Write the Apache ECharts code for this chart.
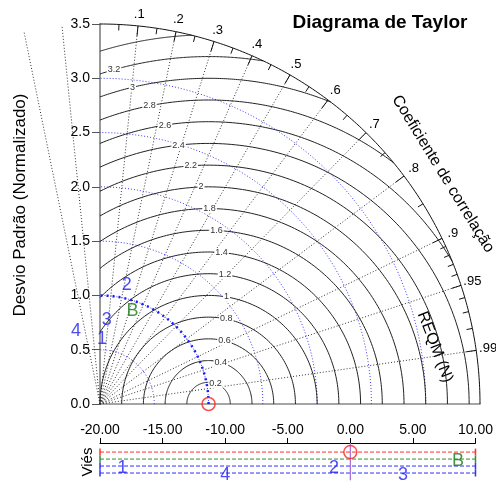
<!DOCTYPE html>
<html>
<head>
<meta charset="utf-8">
<script src="https://cdn.jsdelivr.net/npm/echarts@6/dist/echarts.min.js"></script>
<style>
  html, body { margin: 0; padding: 0; background: #fff; }
  #chart { width: 496px; height: 482px; }
</style>
</head>
<body>
<div id="chart"></div>
<script>
// modelos (desvio padrão normalizado, correlação, viés)
const modelNames = ['1', '2', '3', '4', 'B'];
const modelStd = [0.60, 1.12, 0.78, 0.71, 0.91];
const modelCorr = [0.03, 0.22, 0.08, -0.31, 0.33];
const modelBias = [-18.2, -1.3, 4.2, -10.0, 8.6];
const modelBiasRow = [3, 3, 4, 4, 2];
const modelColors = ['#2020f0', '#2020f0', '#2020f0', '#2020f0', '#1a7a1a'];

const refStd = 1.0;
const refBias = 0;

// grade do diagrama
const maxStd = 3.5;
const stdArcs = [0.5, 1.0, 1.5, 2.0, 2.5, 3.0];
const rmsdArcs = [0.2, 0.4, 0.6, 0.8, 1.0, 1.2, 1.4, 1.6, 1.8, 2.0, 2.2, 2.4, 2.6, 2.8, 3.0, 3.2, 3.4];
const corrLines = [-0.2, -0.1, 0.1, 0.2, 0.3, 0.4, 0.5, 0.6, 0.7, 0.8, 0.9, 0.95, 0.99];
const corrLabels = ['.1', '.2', '.3', '.4', '.5', '.6', '.7', '.8', '.9', '.95', '.99'];
const corrLabelValues = [0.1, 0.2, 0.3, 0.4, 0.5, 0.6, 0.7, 0.8, 0.9, 0.95, 0.99];
const corrMinor = [0.05, 0.15, 0.25, 0.35, 0.45, 0.55, 0.65, 0.75, 0.85, 0.91, 0.92, 0.93, 0.94, 0.96, 0.97, 0.98];

// faixa do viés
const biasTicks = [-20, 10, 5];
const biasRowColors = ['#ff3030', '#2e922e', '#3030ff', '#3030ff'];

const chart = echarts.init(document.getElementById('chart'), null, { renderer: 'canvas' });

function polar(s, c) {
  return [s * c, s * Math.sqrt(1 - c * c)];
}

function arcPoints(api, cx, r, a0, a1, n) {
  const pts = [];
  for (let i = 0; i <= n; i++) {
    const a = a0 + (a1 - a0) * i / n;
    pts.push(api.coord([cx + r * Math.cos(a), r * Math.sin(a)]));
  }
  return pts;
}

const modelData = modelNames.map((n, i) => ({
  value: polar(modelStd[i], modelCorr[i]),
  name: n,
  label: { color: modelColors[i] }
}));

const biasData = modelNames.map((n, i) => ({
  value: [modelBias[i], modelBiasRow[i]],
  name: n,
  label: { color: modelColors[i] }
}));

const option = {
  animation: false,
  backgroundColor: '#fff',
  textStyle: { fontFamily: 'Liberation Sans, Arial, sans-serif' },
  grid: [
    { left: 100, top: 24, width: 380, height: 380 },
    { left: 100, top: 443, width: 380, height: 37 }
  ],
  xAxis: [
    {
      gridIndex: 0, type: 'value', min: 0, max: maxStd,
      axisLine: { show: true, lineStyle: { color: '#888', width: 1.5 } },
      axisTick: { show: false }, axisLabel: { show: false }, splitLine: { show: false }
    },
    {
      gridIndex: 1, type: 'value', position: 'top',
      min: biasTicks[0], max: biasTicks[1], interval: biasTicks[2],
      axisLine: { show: true, onZero: false, lineStyle: { color: '#000', width: 1 } },
      axisTick: { show: true, length: 5, lineStyle: { color: '#000' } },
      axisLabel: { show: true, margin: 6, fontSize: 14, color: '#000', formatter: v => v.toFixed(2) },
      splitLine: { show: false }
    }
  ],
  yAxis: [
    {
      gridIndex: 0, type: 'value', min: 0, max: maxStd, interval: 0.5,
      axisLine: { show: true, lineStyle: { color: '#999', width: 2 } },
      axisTick: { show: true, length: 8, lineStyle: { color: '#555' } },
      axisLabel: { margin: 10, fontSize: 14, color: '#000', formatter: v => v.toFixed(1) },
      splitLine: { show: false }
    },
    {
      gridIndex: 1, type: 'value', min: -0.3, max: 5, inverse: true,
      axisLine: { show: true, lineStyle: { color: '#999' } },
      axisTick: { show: false }, axisLabel: { show: false }, splitLine: { show: false }
    }
  ],
  graphic: [
    {
      type: 'text', x: 380, y: 23,
      style: { text: 'Diagrama de Taylor', font: 'bold 19px Liberation Sans, Arial', fill: '#000', align: 'center', verticalAlign: 'middle' }
    },
    {
      type: 'text', x: 20, y: 205, rotation: Math.PI / 2,
      style: { text: 'Desvio Padrão (Normalizado)', font: '17px Liberation Sans, Arial', fill: '#000', align: 'center', verticalAlign: 'middle' }
    },
    {
      type: 'text', x: 443, y: 174, rotation: -58.5 * Math.PI / 180,
      style: { text: 'Coeficiente de correlação', font: '16px Liberation Sans, Arial', fill: '#000', align: 'center', verticalAlign: 'middle' }
    },
    {
      type: 'text', x: 435, y: 347, rotation: -69 * Math.PI / 180,
      style: { text: 'REQM (N)', font: '16px Liberation Sans, Arial', fill: '#000', align: 'center', verticalAlign: 'middle' }
    },
    {
      type: 'text', x: 88, y: 462, rotation: Math.PI / 2,
      style: { text: 'Viés', font: '15px Liberation Sans, Arial', fill: '#000', align: 'center', verticalAlign: 'middle' }
    }
  ],
  series: [
    // linhas de correlação
    {
      type: 'custom', xAxisIndex: 0, yAxisIndex: 0, silent: true,
      data: corrLines.map(c => [c, 0]),
      renderItem: function (params, api) {
        const c = api.value(0);
        return {
          type: 'line',
          shape: (function () {
            const p0 = api.coord([0, 0]);
            const p1 = api.coord(polar(maxStd, c));
            return { x1: p0[0], y1: p0[1], x2: p1[0], y2: p1[1] };
          })(),
          style: { stroke: '#333', lineWidth: 1, lineDash: [1, 2] }
        };
      }
    },
    // arcos de desvio padrão
    {
      type: 'custom', xAxisIndex: 0, yAxisIndex: 0, silent: true,
      data: stdArcs.map(r => [r, 0]),
      renderItem: function (params, api) {
        const r = api.value(0);
        return {
          type: 'polyline',
          shape: { points: arcPoints(api, 0, r, 0, Math.PI / 2, 90) },
          style: { stroke: '#3a3aff', fill: null, lineWidth: 1, lineDash: [1, 2] }
        };
      }
    },
    // arcos de REQM
    {
      type: 'custom', xAxisIndex: 0, yAxisIndex: 0, silent: true,
      data: rmsdArcs.map(r => [r, 0]),
      renderItem: function (params, api) {
        const r = api.value(0);
        const R = maxStd;
        let cMax = 1, cMin = -1;
        cMin = Math.max(cMin, -refStd / r);
        cMax = Math.min(cMax, (R * R - refStd * refStd - r * r) / (2 * refStd * r));
        const a0 = Math.acos(Math.min(1, cMax));
        const a1 = Math.acos(Math.max(-1, cMin));
        const children = [{
          type: 'polyline',
          shape: { points: arcPoints(api, refStd, r, a0, a1, 120) },
          style: { stroke: '#222', fill: null, lineWidth: 1 }
        }];
        const la = (69 + 11.5 * r) * Math.PI / 180;
        const lx = refStd + r * Math.cos(la);
        if (lx > 0.06 && la >= a0 && la <= a1) {
          const p = api.coord([lx, r * Math.sin(la)]);
          children.push({
            type: 'text', x: p[0], y: p[1],
            style: {
              text: String(r), font: '9px Liberation Sans, Arial', fill: '#333',
              align: 'center', verticalAlign: 'middle', backgroundColor: '#fff', padding: [0, 1]
            }
          });
        }
        return { type: 'group', children: children };
      }
    },
    // arco externo, marcas e rótulos de correlação
    {
      type: 'custom', xAxisIndex: 0, yAxisIndex: 0, silent: true,
      data: [[maxStd, 0]],
      renderItem: function (params, api) {
        const R = api.value(0);
        const px = api.size([1, 1])[0];
        const children = [{
          type: 'polyline',
          shape: { points: arcPoints(api, 0, R, 0, Math.PI / 2, 180) },
          style: { stroke: '#111', fill: null, lineWidth: 1 }
        }];
        function tick(c, len) {
          const p0 = api.coord(polar(R, c));
          const p1 = api.coord(polar(R - len / px, c));
          return {
            type: 'line',
            shape: { x1: p0[0], y1: p0[1], x2: p1[0], y2: p1[1] },
            style: { stroke: '#111', lineWidth: 1 }
          };
        }
        corrMinor.forEach(c => children.push(tick(c, 6)));
        corrLabelValues.forEach((c, i) => {
          children.push(tick(c, 10));
          const p = api.coord(polar(R + 12 / px, c));
          children.push({
            type: 'text', x: p[0], y: p[1],
            style: {
              text: corrLabels[i], font: '13px Liberation Sans, Arial', fill: '#000',
              align: 'center', verticalAlign: 'middle'
            }
          });
        });
        return { type: 'group', children: children };
      }
    },
    // arco de referência
    {
      type: 'custom', xAxisIndex: 0, yAxisIndex: 0, silent: true,
      data: [[refStd, 0]],
      renderItem: function (params, api) {
        return {
          type: 'polyline',
          shape: { points: arcPoints(api, 0, api.value(0), 0, Math.PI / 2, 90) },
          style: { stroke: '#1a1aff', fill: null, lineWidth: 2.5, lineDash: [2, 4] }
        };
      }
    },
    // modelos
    {
      type: 'scatter', xAxisIndex: 0, yAxisIndex: 0, clip: false,
      symbolSize: 0,
      data: modelData,
      label: { show: true, position: 'inside', formatter: '{b}', fontSize: 18 }
    },
    // referência
    {
      type: 'scatter', xAxisIndex: 0, yAxisIndex: 0, clip: false,
      symbol: 'circle', symbolSize: 13,
      itemStyle: { color: 'rgba(0,0,0,0)', borderColor: '#ff2020', borderWidth: 1.5 },
      data: [[refStd, 0]],
      z: 5
    },
    // linhas da faixa de viés
    {
      type: 'custom', xAxisIndex: 1, yAxisIndex: 1, silent: true,
      data: biasRowColors.map((c, i) => [0, i + 1]),
      renderItem: function (params, api) {
        const y = api.value(1);
        const color = biasRowColors[params.dataIndex];
        const a = api.coord([biasTicks[0], y]);
        const b = api.coord([biasTicks[1], y]);
        const l0 = api.coord([biasTicks[0], y - 0.5]);
        const l1 = api.coord([biasTicks[0], y + 0.5]);
        const r0 = api.coord([biasTicks[1], y - 0.5]);
        const r1 = api.coord([biasTicks[1], y + 0.5]);
        return {
          type: 'group',
          children: [
            { type: 'line', shape: { x1: a[0], y1: a[1], x2: b[0], y2: b[1] }, style: { stroke: color, lineWidth: 1, lineDash: [4, 2] } },
            { type: 'line', shape: { x1: l0[0], y1: l0[1], x2: l1[0], y2: l1[1] }, style: { stroke: color, lineWidth: 1.5 } },
            { type: 'line', shape: { x1: r0[0], y1: r0[1], x2: r1[0], y2: r1[1] }, style: { stroke: color, lineWidth: 1.5 } }
          ]
        };
      }
    },
    // linha de viés zero
    {
      type: 'custom', xAxisIndex: 1, yAxisIndex: 1, silent: true,
      data: [[refBias, 0]],
      renderItem: function (params, api) {
        const p0 = api.coord([api.value(0), -0.3]);
        const p1 = api.coord([api.value(0), 5]);
        return {
          type: 'line',
          shape: { x1: p0[0], y1: p0[1], x2: p1[0], y2: p1[1] },
          style: { stroke: '#b070e0', lineWidth: 1.2 }
        };
      }
    },
    {
      type: 'scatter', xAxisIndex: 1, yAxisIndex: 1, clip: false,
      symbolSize: 0,
      data: biasData,
      label: { show: true, position: 'inside', formatter: '{b}', fontSize: 18, offset: [0, 2] }
    },
    {
      type: 'scatter', xAxisIndex: 1, yAxisIndex: 1, clip: false,
      symbol: 'circle', symbolSize: 13,
      itemStyle: { color: 'rgba(0,0,0,0)', borderColor: '#ff2020', borderWidth: 1.5 },
      data: [[refBias, 1]],
      z: 5
    }
  ]
};

chart.setOption(option);
</script>
</body>
</html>
